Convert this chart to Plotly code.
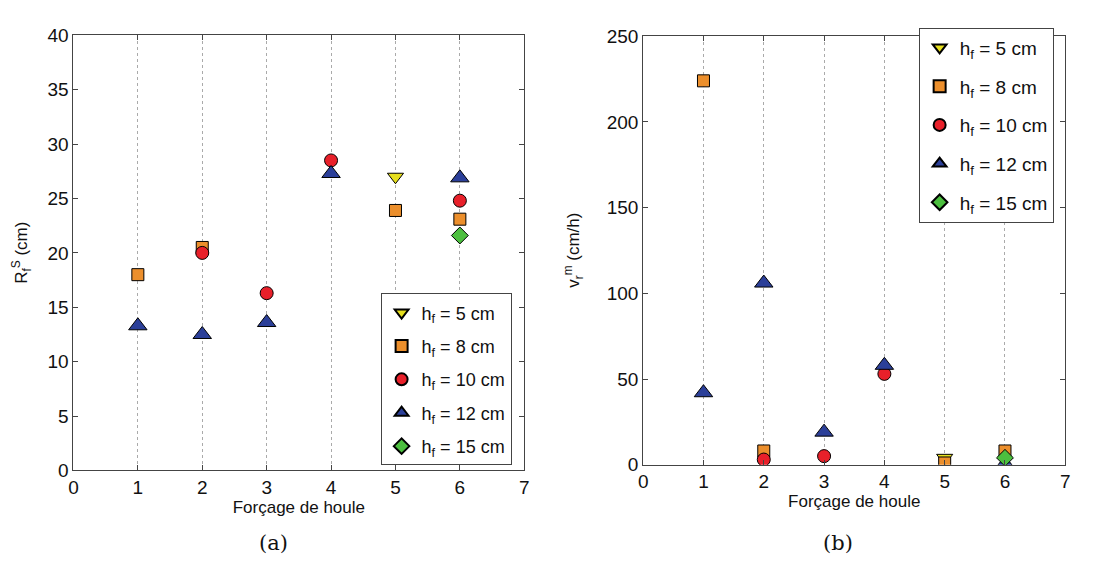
import plotly.graph_objects as go

# ---- data ----
series_names = ["h<sub>f</sub> = 5 cm", "h<sub>f</sub> = 8 cm", "h<sub>f</sub> = 10 cm",
                "h<sub>f</sub> = 12 cm", "h<sub>f</sub> = 15 cm"]
# panel (a): R_f^S (cm)
a_h5_x = [5];            a_h5_y = [27.0]
a_h8_x = [1, 2, 5, 6];   a_h8_y = [18.0, 20.5, 23.9, 23.1]
a_h10_x = [2, 3, 4, 6];  a_h10_y = [20.0, 16.3, 28.5, 24.8]
a_h12_x = [1, 2, 3, 4, 6]; a_h12_y = [13.3, 12.5, 13.6, 27.3, 26.9]
a_h15_x = [6];           a_h15_y = [21.6]
# panel (b): v_r^m (cm/h)
b_h5_x = [5];            b_h5_y = [4.0]
b_h8_x = [1, 2, 5, 6];   b_h8_y = [224.0, 8.0, 1.0, 8.0]
b_h10_x = [2, 3, 4];     b_h10_y = [3.0, 5.0, 53.0]
b_h12_x = [1, 2, 3, 4, 6]; b_h12_y = [42.0, 106.0, 19.0, 58.0, 0.5]
b_h15_x = [6];           b_h15_y = [4.0]

x_ticks = [0, 1, 2, 3, 4, 5, 6, 7]
a_y_ticks = [0, 5, 10, 15, 20, 25, 30, 35, 40]
b_y_ticks = [0, 50, 100, 150, 200, 250]

symbols = ["triangle-down", "square", "circle", "triangle-up", "diamond"]
colors = ["#e6df1e", "#ec8f2c", "#e8202a", "#2b3f99", "#4cbf3f"]
sizes = [14, 12, 13, 16, 13]

FONT = "Liberation Sans, Arial"

fig = go.Figure()

a_data = [(a_h5_x, a_h5_y), (a_h8_x, a_h8_y), (a_h10_x, a_h10_y), (a_h12_x, a_h12_y), (a_h15_x, a_h15_y)]
b_data = [(b_h5_x, b_h5_y), (b_h8_x, b_h8_y), (b_h10_x, b_h10_y), (b_h12_x, b_h12_y), (b_h15_x, b_h15_y)]

for i, (xs, ys) in enumerate(a_data):
    fig.add_trace(go.Scatter(x=xs, y=ys, mode="markers", name=series_names[i],
                             marker=dict(symbol=symbols[i], color=colors[i], size=sizes[i],
                                         line=dict(color="black", width=1)),
                             xaxis="x", yaxis="y", legend="legend", legendgroup="a%d" % i))
for i, (xs, ys) in enumerate(b_data):
    fig.add_trace(go.Scatter(x=xs, y=ys, mode="markers", name=series_names[i],
                             marker=dict(symbol=symbols[i], color=colors[i], size=sizes[i],
                                         line=dict(color="black", width=1)),
                             xaxis="x2", yaxis="y2", legend="legend2", legendgroup="b%d" % i))

W, H = 1093, 563
def px_x(p): return p / W
def px_y(p): return 1 - p / H

axis_common = dict(showline=True, linecolor="#444", linewidth=1, mirror="ticks",
                   ticks="inside", ticklen=5, tickcolor="#444", zeroline=False,
                   tickfont=dict(family=FONT, size=19, color="#111"))

fig.update_layout(
    width=W, height=H, margin=dict(l=0, r=0, t=0, b=0),
    paper_bgcolor="white", plot_bgcolor="white",
    font=dict(family=FONT, color="#111"),
    xaxis=dict(domain=[px_x(61), px_x(516)], range=[0, 7], tickvals=x_ticks,
               showgrid=True, gridcolor="#aaa", griddash="dot", gridwidth=1,
               title=dict(text="Forçage de houle", font=dict(size=17), standoff=3),
               anchor="y", **axis_common),
    yaxis=dict(domain=[px_y(470), px_y(18)], range=[0, 40], tickvals=a_y_ticks,
               showgrid=False, anchor="x", **axis_common),
    xaxis2=dict(domain=[px_x(636), px_x(1062)], range=[0, 7], tickvals=x_ticks,
                showgrid=True, gridcolor="#aaa", griddash="dot", gridwidth=1,
                title=dict(text="Forçage de houle", font=dict(size=17), standoff=3),
                anchor="y2", **axis_common),
    yaxis2=dict(domain=[px_y(464), px_y(19)], range=[0, 250], tickvals=b_y_ticks,
                showgrid=False, anchor="x2", **axis_common),
    legend=dict(x=px_x(371), y=px_y(286), xanchor="left", yanchor="top",
                bgcolor="white", bordercolor="#444", borderwidth=1,
                font=dict(size=18, color="#111"), tracegroupgap=7, traceorder="grouped",
                itemsizing="constant"),
    legend2=dict(x=px_x(914), y=px_y(10), xanchor="left", yanchor="top",
                 bgcolor="white", bordercolor="#444", borderwidth=1,
                 font=dict(size=19, color="#111"), tracegroupgap=11, traceorder="grouped",
                 itemsizing="constant"),
    showlegend=True,
)

# y-axis titles as rotated annotations
fig.add_annotation(text="R<sub>f</sub><sup>S</sup> (cm)", x=px_x(9), y=px_y(244),
                   xref="paper", yref="paper", xanchor="center", yanchor="middle",
                   textangle=-90, showarrow=False, font=dict(family=FONT, size=17, color="#111"))
fig.add_annotation(text="v<sub>r</sub><sup>m</sup> (cm/h)", x=px_x(565), y=px_y(241),
                   xref="paper", yref="paper", xanchor="center", yanchor="middle",
                   textangle=-90, showarrow=False, font=dict(family=FONT, size=17, color="#111"))

fig.add_annotation(text="(a)", x=px_x(263), y=px_y(545), xref="paper", yref="paper",
                   xanchor="center", yanchor="middle",
                   showarrow=False, font=dict(family="DejaVu Serif", size=21, color="#111"))
fig.add_annotation(text="(b)", x=px_x(833), y=px_y(545), xref="paper", yref="paper",
                   xanchor="center", yanchor="middle",
                   showarrow=False, font=dict(family="DejaVu Serif", size=21, color="#111"))

fig.write_html("out.html")
